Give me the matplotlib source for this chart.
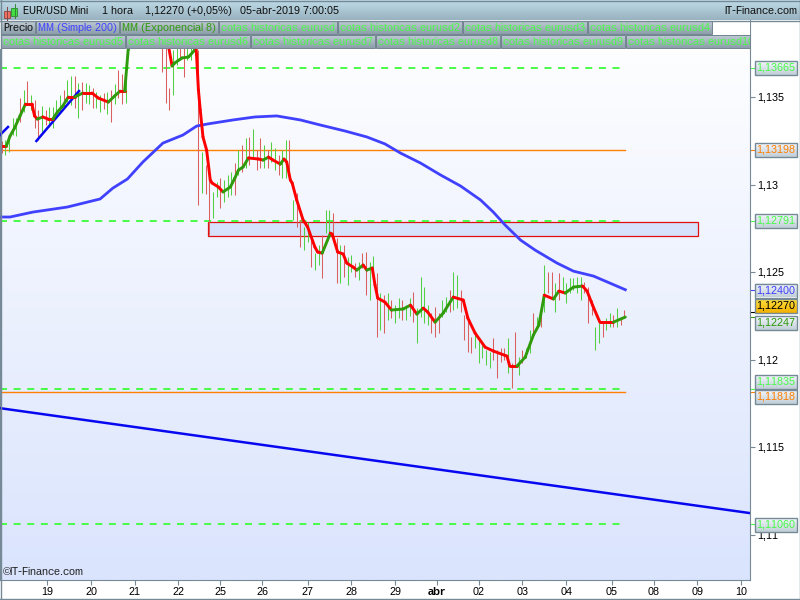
import matplotlib
matplotlib.use("Agg")
import matplotlib.pyplot as plt
from matplotlib.collections import LineCollection
from matplotlib.colors import to_rgb
from matplotlib.patches import Rectangle
import numpy as np

plt.rcParams['font.family'] = ['Liberation Sans', 'DejaVu Sans']
plt.rcParams['text.hinting'] = 'native'
plt.rcParams['text.hinting_factor'] = 1

# hourly bars, one kept out of every two
bar_high = [
    1.13249, 1.13254, 1.13266, 1.1338, 1.1338, 1.13494, 1.1354, 1.13591, 1.13511, 1.13483,
    1.13426, 1.13449, 1.13426, 1.13443, 1.13443, 1.13483, 1.13511, 1.1354, 1.13597, 1.1362,
    1.1362, 1.1358, 1.13586, 1.1358, 1.13569, 1.13551, 1.13529, 1.13511, 1.13523, 1.13529,
    1.1354, 1.13574, 1.13654, 1.13631, 1.13711, 1.1394, 1.1400, 1.1401, 1.1402, 1.1401,
    1.1400, 1.1399, 1.1398, 1.1397, 1.13883, 1.13883, 1.13551, 1.13768, 1.13883, 1.13883,
    1.13825, 1.13854, 1.13854, 1.13883, 1.13768, 1.13186, 1.13112, 1.13083, 1.12958, 1.13015,
    1.13037, 1.13026, 1.13055, 1.13072, 1.13123, 1.13197, 1.13226, 1.13266, 1.13272, 1.13318,
    1.13197, 1.13266, 1.13226, 1.13197, 1.13243, 1.13209, 1.13169, 1.13197, 1.13254, 1.13254,
    1.12912, 1.12952, 1.12798, 1.12758, 1.12786, 1.12701, 1.12609, 1.12655, 1.12712, 1.12855,
    1.12855, 1.12838, 1.12695, 1.12655, 1.12655, 1.12586, 1.12598, 1.12552, 1.12558, 1.12609,
    1.12615, 1.12558, 1.12592, 1.12495, 1.12381, 1.1237, 1.12381, 1.12341, 1.12312, 1.12352,
    1.12341, 1.12312, 1.12352, 1.12387, 1.12295, 1.12472, 1.12415, 1.12312, 1.12267, 1.12301,
    1.12267, 1.12341, 1.12358, 1.12398, 1.12501, 1.12484, 1.12398, 1.12255, 1.12227, 1.1213,
    1.12141, 1.12124, 1.12084, 1.12055, 1.12044, 1.12124, 1.12055, 1.12067, 1.12067, 1.12124,
    1.11981, 1.12158, 1.12015, 1.12055, 1.12067, 1.1217, 1.12267, 1.12244, 1.12267, 1.12541,
    1.12501, 1.12501, 1.12438, 1.12495, 1.12472, 1.12438, 1.12466, 1.12466, 1.12472, 1.12472,
    1.12444, 1.12415, 1.12341, 1.12187, 1.12209, 1.12215, 1.12238, 1.12267, 1.12255, 1.12295,
    1.12244, 1.12284,
]
bar_low = [
    1.1318, 1.13169, 1.13186, 1.13283, 1.13277, 1.13357, 1.13414, 1.13454, 1.13426, 1.13323,
    1.13254, 1.133, 1.1334, 1.13329, 1.13323, 1.1338, 1.13409, 1.13437, 1.13471, 1.13454,
    1.13437, 1.1338, 1.13426, 1.13466, 1.1346, 1.13437, 1.13437, 1.13414, 1.13431, 1.13403,
    1.13357, 1.1346, 1.13494, 1.1346, 1.13466, 1.13768, 1.1391, 1.1392, 1.1393, 1.1392,
    1.1391, 1.1390, 1.1389, 1.1388, 1.13643, 1.13466, 1.13426, 1.13511, 1.13683, 1.13711,
    1.13614, 1.13711, 1.13711, 1.1374, 1.12883, 1.12952, 1.12946, 1.12712, 1.1281, 1.12929,
    1.12866, 1.129, 1.12929, 1.12941, 1.12941, 1.13055, 1.13072, 1.13095, 1.13112, 1.13152,
    1.13083, 1.13095, 1.13095, 1.13095, 1.13129, 1.13083, 1.13055, 1.13037, 1.13037, 1.13026,
    1.12798, 1.12758, 1.12644, 1.12626, 1.12672, 1.12529, 1.12512, 1.12541, 1.12466, 1.12723,
    1.12712, 1.12712, 1.12438, 1.12438, 1.12472, 1.12427, 1.12501, 1.12472, 1.12455, 1.12524,
    1.1237, 1.12341, 1.12512, 1.1213, 1.1217, 1.12152, 1.12227, 1.12238, 1.12209, 1.12238,
    1.12227, 1.12227, 1.12249, 1.12215, 1.12095, 1.12244, 1.12209, 1.12198, 1.12152, 1.1213,
    1.12152, 1.12244, 1.12272, 1.12272, 1.12284, 1.12295, 1.12272, 1.12112, 1.12044, 1.12038,
    1.12067, 1.11981, 1.1201, 1.1197, 1.11953, 1.11998, 1.11896, 1.11987, 1.11998, 1.11924,
    1.11838, 1.1197, 1.11913, 1.11981, 1.1201, 1.12038, 1.1213, 1.12187, 1.12187, 1.12272,
    1.12381, 1.12352, 1.12272, 1.12341, 1.12381, 1.12324, 1.12381, 1.12398, 1.12381, 1.12341,
    1.12381, 1.12209, 1.12255, 1.12055, 1.12095, 1.1213, 1.1217, 1.12187, 1.12187, 1.12187,
    1.12198, 1.12238,
]
bar_dir = (
    "rgggg" "rgrgr" "rgrgg" "ggrgg" "rgrgg" "rggrg" "rgrrg" "ggggg" "ggggr" "rrggr"
    "rgggr" "grrgg" "rgggr" "grgrg" "rrgrg" "grggr" "grrgg" "rggrg" "grrgr" "ggrgr"
    "rggrg" "rgrgg" "rggrg" "gggrr" "rggrg" "grrrr" "ggggg" "rrrrg" "rrgrg" "grgrg"
    "rrgrg" "ggggg" "rrrgg" "rggrg" "rrgrg" "gggrg" "g"
)

# EMA 8 and SMA 200
ema_hour = [
    1, 3.5, 5.5, 8, 11, 14, 17.5, 19, 20.5, 23.5, 26.5, 29, 31.5, 34.5, 37.5, 41, 45.5, 50.5,
    54, 59.5, 63, 66, 68.5, 70.5, 72, 77, 85, 90.5, 92, 94.5, 96, 100, 103.5, 107, 107.7, 109,
    110, 111.5, 113.5, 115.5, 116.5, 120, 122.5, 126.5, 129, 131, 133.5, 136.5, 142, 144.5,
    147.5, 150, 154, 156, 157.5, 159.5, 160.5, 163, 166.5, 169, 173, 174.5, 177, 181.5, 182.5,
    185.5, 188.5, 190.5, 194, 196, 199.5, 201.5, 204.5, 206, 207.5, 211.5, 215, 221.5, 225.5,
    229, 232.5, 235, 239, 243.5, 249, 254.5, 257, 261, 266.5, 271, 278.5, 280, 284, 288.5,
    293, 296, 299, 304, 307, 310.5, 315, 320, 322.5, 325.5, 329.5, 337, 343.5,
]
ema_price = [
    1.1322, 1.1322, 1.13277, 1.13323, 1.13392, 1.1346, 1.1346, 1.13392, 1.13374, 1.13386,
    1.13374, 1.13374, 1.13414, 1.13449, 1.135, 1.135, 1.13523, 1.13523, 1.13494, 1.13471,
    1.13506, 1.13534, 1.13534, 1.1378, 1.1394, 1.1405, 1.1403, 1.13883, 1.13825, 1.13677,
    1.13694, 1.13723, 1.13728, 1.13768, 1.13791, 1.1354, 1.13426, 1.13272, 1.13197, 1.13026,
    1.13009, 1.12986, 1.12958, 1.12986, 1.13037, 1.13083, 1.131, 1.13152, 1.13146, 1.1314,
    1.13157, 1.1314, 1.13117, 1.13146, 1.13129, 1.13026, 1.13009, 1.12912, 1.12798, 1.12758,
    1.12643, 1.12615, 1.12609, 1.12723, 1.12717, 1.12615, 1.12604, 1.12552, 1.12529, 1.12512,
    1.12541, 1.12512, 1.12524, 1.12427, 1.12352, 1.12329, 1.12284, 1.1229, 1.12312, 1.12261,
    1.12295, 1.12272, 1.12215, 1.12267, 1.12358, 1.12341, 1.12238, 1.12152, 1.12072, 1.1205,
    1.12021, 1.11964, 1.11964, 1.12015, 1.12141, 1.12198, 1.12369, 1.12347, 1.12392, 1.12381,
    1.12415, 1.12421, 1.12392, 1.12312, 1.12215, 1.12215, 1.12244,
]
sma_hour = [1, 5.5, 18, 37, 55, 62, 70, 78.5, 89.5, 100.5, 108, 114, 128, 140, 152, 165, 176,
            189.5, 201.5, 211.5, 220, 231, 242, 253, 264, 271, 277.5, 286, 294, 306, 315,
            326, 335, 343.5]
sma_price = [1.12815, 1.12815, 1.12843, 1.12872, 1.12918, 1.1298, 1.13032, 1.13129, 1.13237,
             1.13283, 1.13334, 1.13346, 1.13369, 1.13386, 1.13392, 1.13369, 1.1334, 1.13306,
             1.13272, 1.13232, 1.1318, 1.13123, 1.13055, 1.12992, 1.12912, 1.12843, 1.12769,
             1.12683, 1.12626, 1.12552, 1.12506, 1.12478, 1.12438, 1.124]

# levels and drawings
green_levels = [1.13665, 1.12791, 1.11835, 1.1106]
orange_levels = [1.13198, 1.11818]
zone_hours = [114.3, 383.5]
zone_prices = [1.12706, 1.12786]
trend_lines = [([0, 412], [1.11724, 1.11125]),
               ([20, 43.4], [1.13249, 1.13534]),
               ([0, 4.4], [1.13283, 1.13329])]
last_hour = 343.5

day_hours = [26, 50, 74, 98, 121, 144, 169, 193, 217, 240, 263, 287, 311, 336, 359, 383, 407]
day_labels = ['19', '20', '21', '22', '25', '26', '27', '28', '29', 'abr',
              '02', '03', '04', '05', '08', '09', '10']
price_ticks = [1.11, 1.115, 1.12, 1.125, 1.13, 1.135]
price_labels = ['1,11', '1,115', '1,12', '1,125', '1,13', '1,135']

SLATE = '#758a96'
GREEN_BAR = '#52cf42'
RED_BAR = '#d9605e'
EMA_UP = '#2f9a0c'
EMA_DOWN = '#ff0000'
LEVEL_GREEN = '#48fb48'
ORANGE = '#ff8000'
SMA_BLUE = '#4040ff'

fig = plt.figure(figsize=(8, 6), dpi=100, facecolor='white')
ax = fig.add_axes([0, 20 / 600, 750 / 800, 560 / 600])


def gradient(axes, x0, y0, x1, y1, top, bottom, **kw):
    # y0 is the edge shown at the top, extent is given left, right, bottom, top
    c = np.linspace(to_rgb(top), to_rgb(bottom), 64).reshape(64, 1, 3)
    axes.imshow(c, extent=(x0, x1, y1, y0), aspect='auto', interpolation='bilinear', **kw)


gradient(ax, 0, 1, 1, 0, '#ffffff', '#dae4fd', transform=ax.transAxes, zorder=0)

ax.add_patch(Rectangle((zone_hours[0], zone_prices[0]), zone_hours[1] - zone_hours[0],
                       zone_prices[1] - zone_prices[0], facecolor='#d6e2fb',
                       edgecolor='#e01010', linewidth=0.9, zorder=2))

for v in green_levels:
    ax.plot([0, last_hour], [v, v], color=LEVEL_GREEN, lw=1.4, dashes=(3.6, 3.4), zorder=2)
for v in orange_levels:
    ax.plot([0, last_hour], [v, v], color=ORANGE, lw=1.0, zorder=2)

bar_hour = np.arange(1, 344, 2)
bar_colors = [GREEN_BAR if c == 'g' else RED_BAR for c in bar_dir]
bars = ax.vlines(bar_hour, bar_low, bar_high, colors=bar_colors, linewidth=0.75, zorder=3)
bars.set_snap(True)

ax.plot(sma_hour, sma_price, color=SMA_BLUE, lw=2.0, zorder=4, solid_joinstyle='round')

for xs, ys in trend_lines:
    ax.plot(xs, ys, color='#0808f0', lw=1.8, zorder=4)

# EMA is green going up and red going down
pts = np.column_stack([ema_hour, ema_price])
segs = np.stack([pts[:-1], pts[1:]], axis=1)
seg_colors = [EMA_UP if d > 0 else EMA_DOWN for d in np.diff(ema_price)]
ax.add_collection(LineCollection(segs, colors=seg_colors, linewidths=2.1, capstyle='round', zorder=5))

ax.set_xlim(0, 412)
ax.set_ylim(1.135 - 483 / 17520, 1.135 + 77 / 17520)

ax.set_xticks(day_hours)
ax.set_xticklabels(day_labels, fontsize=8)
ax.get_xticklabels()[day_labels.index('abr')].set_fontweight('bold')
ax.yaxis.tick_right()
ax.set_yticks(price_ticks)
ax.set_yticklabels(price_labels, fontsize=8.2)
ax.tick_params(axis='both', length=3.6, width=0.8, color=SLATE, pad=1.5, labelcolor='black')
ax.spines['top'].set_visible(False)
for s in ['left', 'right', 'bottom']:
    ax.spines[s].set_color(SLATE)

ax.text(3, 575, '\u00a9IT-Finance.com', fontsize=7.8, color='#222222', va='baseline',
        transform=matplotlib.transforms.Affine2D().scale(1, -1).translate(0, 600), zorder=6)

# header, tabs and value boxes live on a top layer in pixel coordinates
top = fig.add_axes([0, 0, 1, 1], zorder=10)
top.set_xlim(0, 800)
top.set_ylim(600, 0)
top.set_autoscale_on(False)
top.axis('off')
top.patch.set_visible(False)

top.add_patch(Rectangle((0, 20), 750, 28.5, facecolor='white', edgecolor='none', zorder=-1))
gradient(top, 0, 0, 800, 20, '#bfdbe7', '#98b3bf')
top.plot([0, 800], [20.5, 20.5], color=SLATE, lw=1.0)
top.plot([0, 800], [0.5, 0.5], color=SLATE, lw=1.0)
top.plot([0.5, 0.5], [0, 600], color=SLATE, lw=1.0)
top.plot([799.5, 799.5], [0, 600], color=SLATE, lw=1.0)
top.plot([0, 800], [598.5, 598.5], color=SLATE, lw=1.0)

# candle icon
top.plot([6.5, 6.5], [7, 20], color='#884444', lw=0.7)
top.add_patch(Rectangle((3.5, 10.5), 6, 7, facecolor='#f07060', edgecolor='#884444', lw=0.6))
top.plot([14.5, 14.5], [4, 18], color='#338833', lw=0.7)
top.add_patch(Rectangle((11, 7.5), 6, 8, facecolor='#40e040', edgecolor='#338833', lw=0.6))

header_font = dict(fontsize=8.0, color='#101010', va='center', fontweight='normal')
top.text(23, 11, 'EUR/USD Mini', **header_font)
top.text(102, 11, '1 hora', **header_font)
top.text(145, 11, '1,12270 (+0,05%)', **header_font)
top.text(240, 11, '05-abr-2019 7:00:05', **header_font)
top.text(797, 11, 'IT-Finance.com', ha='right', **header_font)

tab_rows = [
    (21, 34, [(1, 35, 'Precio', '#101010'),
              (36, 119, 'MM (Simple 200)', SMA_BLUE),
              (120, 218, 'MM (Exponencial 8)', EMA_UP),
              (219, 337, 'cotas historicas eurusd', LEVEL_GREEN),
              (338, 462, 'cotas historicas eurusd2', LEVEL_GREEN),
              (463, 587, 'cotas historicas eurusd3', LEVEL_GREEN),
              (588, 712, 'cotas historicas eurusd4', LEVEL_GREEN)]),
    (35, 48, [(1, 125, 'cotas historicas eurusd5', LEVEL_GREEN),
              (126, 250, 'cotas historicas eurusd6', LEVEL_GREEN),
              (251, 375, 'cotas historicas eurusd7', LEVEL_GREEN),
              (376, 500, 'cotas historicas eurusd8', LEVEL_GREEN),
              (501, 625, 'cotas historicas eurusd9', LEVEL_GREEN),
              (626, 750, 'cotas historicas eurusd10', LEVEL_GREEN)]),
]
for y0, y1, tabs in tab_rows:
    for x0, x1, label, col in tabs:
        gradient(top, x0, y0, x1, y1, '#c0ccd4', '#8c9eaa')
        top.add_patch(Rectangle((x0, y0), x1 - x0, y1 - y0, fill=False, edgecolor='#70848f', lw=0.7))
        t = top.text(x0 + 2, (y0 + y1) / 2 + 0.3, label, fontsize=7.8, color=col, va='center')
        t.set_clip_path(Rectangle((x0, y0), x1 - x0, y1 - y0, transform=top.transData))
        t.set_clip_on(True)

value_boxes = [
    (68, '1,13665', LEVEL_GREEN, False),
    (150, '1,13198', ORANGE, False),
    (221, '1,12791', LEVEL_GREEN, False),
    (290.5, '1,12400', SMA_BLUE, False),
    (306, '1,12270', 'black', True),
    (323, '1,12247', EMA_UP, False),
    (382, '1,11835', LEVEL_GREEN, False),
    (397, '1,11818', ORANGE, False),
    (525, '1,11060', LEVEL_GREEN, False),
]
for yc, label, col, current in value_boxes:
    if current:
        gradient(top, 755, yc - 7, 797, yc + 7, '#ffe040', '#f2b000')
    else:
        gradient(top, 755, yc - 7, 797, yc + 7, '#f2f6fc', '#c2ced6')
    top.add_patch(Rectangle((755, yc - 7), 42, 14, fill=False, edgecolor=SLATE, lw=1.0))
    top.text(776, yc + 0.3, label, fontsize=8.2, color=col, ha='center', va='center')

# small marks joining each value box to its price
marks = [(1.13665, LEVEL_GREEN), (1.13198, ORANGE), (1.12791, LEVEL_GREEN), (1.124, SMA_BLUE),
         (1.1227, 'black'), (1.12247, EMA_UP), (1.11835, LEVEL_GREEN), (1.11818, ORANGE),
         (1.1106, LEVEL_GREEN)]
for v, col in marks:
    ax.plot([1, 1.0067], [v, v], color=col, lw=0.8, clip_on=False, transform=ax.get_yaxis_transform())

fig.savefig('out.png', dpi=100)
